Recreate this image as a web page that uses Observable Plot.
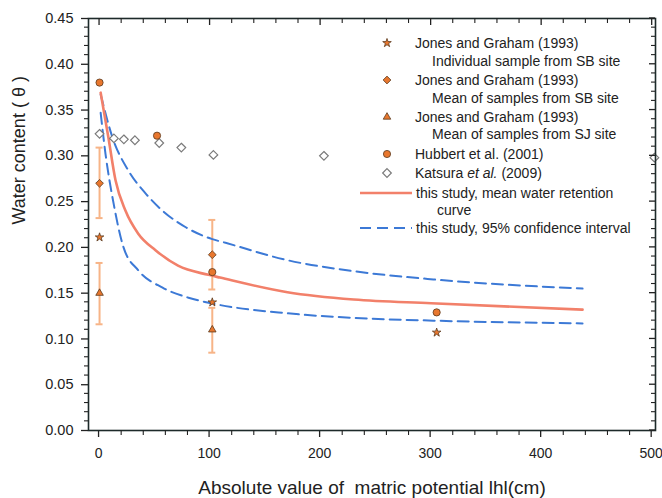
<!DOCTYPE html>
<html><head><meta charset="utf-8">
<script src="https://cdn.jsdelivr.net/npm/d3@7"></script>
<script src="https://cdn.jsdelivr.net/npm/@observablehq/plot@0.6"></script>
<style>body{margin:0;background:#fff} svg{display:block}</style>
</head><body><div id="chart"></div>
<script>
// ---- data ----
const xTitle = "Absolute value of  matric potential lhl(cm)";
const yTitle = "Water content ( θ )";
const xMajor = [0, 100, 200, 300, 400, 500];
const xMinor = [20, 40, 60, 80, 120, 140, 160, 180, 220, 240, 260, 280, 320, 340, 360, 380, 420, 440, 460, 480];
const yMajor = [0, 0.05, 0.10, 0.15, 0.20, 0.25, 0.30, 0.35, 0.40, 0.45];
const yMinor = [0.01,0.02,0.03,0.04,0.06,0.07,0.08,0.09,0.11,0.12,0.13,0.14,0.16,0.17,0.18,0.19,0.21,0.22,0.23,0.24,0.26,0.27,0.28,0.29,0.31,0.32,0.33,0.34,0.36,0.37,0.38,0.39,0.41,0.42,0.43,0.44];

// Jones and Graham (1993) individual sample SB site (stars)
const jgIndivX = [0, 102, 305];
const jgIndivY = [0.211, 0.140, 0.107];
// Jones and Graham (1993) mean SB site (diamonds) with error range
const jgSBX = [0, 102];
const jgSBY = [0.270, 0.192];
const jgSBLo = [0.232, 0.154];
const jgSBHi = [0.309, 0.230];
// Jones and Graham (1993) mean SJ site (triangles) with error range
const jgSJX = [0, 102];
const jgSJY = [0.150, 0.110];
const jgSJLo = [0.116, 0.085];
const jgSJHi = [0.183, 0.134];
// Hubbert et al. (2001)
const hubX = [0, 52, 102, 305];
const hubY = [0.380, 0.322, 0.173, 0.129];
// Katsura et al. (2009)
const katX = [0, 13, 22, 32, 54, 74, 103, 203, 502];
const katY = [0.324, 0.319, 0.318, 0.317, 0.314, 0.309, 0.301, 0.300, 0.298];
// this study: mean curve
const meanX = [1, 8, 14.5, 23.5, 35, 50.6, 71, 98.5, 109, 170, 230, 300, 437];
const meanY = [0.369, 0.320, 0.273, 0.240, 0.215, 0.197, 0.180, 0.170, 0.167, 0.151, 0.143, 0.139, 0.132];
// this study: 95% CI
const upX = [1, 11.7, 26, 41.6, 57, 78, 102, 114, 170, 230, 302, 437];
const upY = [0.367, 0.320, 0.284, 0.259, 0.240, 0.222, 0.209, 0.205, 0.186, 0.174, 0.165, 0.155];
const loX = [1, 5.4, 12.7, 21.7, 35, 57, 80.5, 105, 170, 230, 302, 437];
const loY = [0.347, 0.302, 0.248, 0.200, 0.175, 0.156, 0.145, 0.138, 0.128, 0.123, 0.120, 0.117];

const legendItems = [
  {kind: "star", lines: ["Jones and Graham (1993)", "Individual sample from SB site"]},
  {kind: "diamond", lines: ["Jones and Graham (1993)", "Mean of samples from SB site"]},
  {kind: "triangle", lines: ["Jones and Graham (1993)", "Mean of samples from SJ site"]},
  {kind: "circle", lines: ["Hubbert et al. (2001)"]},
  {kind: "open", lines: ["Katsura |et al.| (2009)"]},
  {kind: "solid", lines: ["this study, mean water retention", "curve"]},
  {kind: "dashed", lines: ["this study, 95% confidence interval"]}
];

// ---- styles ----
const font = "'Liberation Sans', Arial, Helvetica, sans-serif";
const ink = "#222";
const orange = "#e8772e";
const outline = "#5b3a1e";
const errColor = "#f7b487";
const redLine = "#f2806a";
const blueLine = "#3c79d6";
const symR = {star: 2.7, diamond: 3.5, triangle: 2.8, circle: 3.6, open: 3.9};

const zip = (xs, ys) => xs.map((x, i) => ({x, y: ys[i]}));
const errs = [
  ...jgSBX.map((x, i) => ({x, lo: jgSBLo[i], hi: jgSBHi[i]})),
  ...jgSJX.map((x, i) => ({x, lo: jgSJLo[i], hi: jgSJHi[i]}))
];
const caps = errs.flatMap(d => [{x: d.x, y: d.lo}, {x: d.x, y: d.hi}]);
const xDom = [-10, 503], yDom = [0, 0.45];

const chart = Plot.plot({
  width: 662, height: 498,
  marginLeft: 88, marginRight: 7, marginTop: 18, marginBottom: 68,
  style: {fontFamily: font, background: "white", color: ink},
  x: {domain: xDom},
  y: {domain: yDom},
  marks: [
    // error bars
    Plot.ruleX(errs, {x: "x", y1: "lo", y2: "hi", stroke: errColor, strokeWidth: 2}),
    Plot.ruleY(caps, {x1: "x", x2: "x", y: "y", insetLeft: -3.5, insetRight: -3.5, stroke: errColor, strokeWidth: 2}),
    // curves
    Plot.line(zip(upX, upY), {x: "x", y: "y", stroke: blueLine, strokeWidth: 2, strokeDasharray: "11,6", curve: "monotone-x"}),
    Plot.line(zip(loX, loY), {x: "x", y: "y", stroke: blueLine, strokeWidth: 2, strokeDasharray: "11,6", curve: "monotone-x"}),
    Plot.line(zip(meanX, meanY), {x: "x", y: "y", stroke: redLine, strokeWidth: 2.6, curve: "monotone-x"}),
    // points
    Plot.dot(zip(katX, katY), {x: "x", y: "y", symbol: "diamond2", r: symR.open, fill: "white", stroke: "#7a7a7a", strokeWidth: 1.2}),
    Plot.dot(zip(hubX, hubY), {x: "x", y: "y", symbol: "circle", r: symR.circle, fill: orange, stroke: outline, strokeWidth: 0.8}),
    Plot.dot(zip(jgSBX, jgSBY), {x: "x", y: "y", symbol: "diamond2", r: symR.diamond, fill: orange, stroke: outline, strokeWidth: 0.8}),
    Plot.dot(zip(jgSJX, jgSJY), {x: "x", y: "y", symbol: "triangle", r: symR.triangle, fill: orange, stroke: outline, strokeWidth: 0.8}),
    Plot.dot(zip(jgIndivX, jgIndivY), {x: "x", y: "y", symbol: "star", r: symR.star, fill: orange, stroke: outline, strokeWidth: 0.8}),
    // axes (bottom / left outward with labels)
    Plot.axisX(xMajor, {anchor: "bottom", tickSize: 7, tickPadding: 11, fontSize: 14, dx: -1, label: null, tickFormat: d => String(d), stroke: ink, fill: ink, strokeWidth: 1.3}),
    Plot.axisY(yMajor, {anchor: "left", tickSize: 7, tickPadding: 8, fontSize: 14.5, label: null, tickFormat: d3.format(".2f"), stroke: ink, fill: ink, strokeWidth: 1.3}),
    Plot.frame({stroke: "#1d2a2a", strokeWidth: 1.6}),
    // titles
    Plot.text([xTitle], {frameAnchor: "bottom", dy: 57, fontSize: 19, fill: ink, lineAnchor: "middle"}),
    Plot.text([yTitle], {frameAnchor: "left", dx: -69, rotate: -90, fontSize: 18, fill: ink, lineAnchor: "middle"})
  ]
});
document.getElementById("chart").append(chart);

// preserve double space in the x title
d3.select(chart).selectAll("text").style("white-space", "pre");

const svg = d3.select(chart);

// ---- minor and inward ticks, positioned with Plot's own scales ----
const sx = chart.scale("x"), sy = chart.scale("y");
const px = v => sx.apply(v), py = v => sy.apply(v);
const fLeft = px(xDom[0]), fRight = px(xDom[1]), fTop = py(yDom[1]), fBottom = py(yDom[0]);
const tg = svg.append("g").attr("stroke", ink);
function drawTicks(vals, orient, len, w) {
  vals.forEach(v => {
    let x1, x2, y1, y2;
    if (orient === "bottom") { x1 = x2 = px(v); y1 = fBottom; y2 = fBottom + len; }
    if (orient === "top")    { x1 = x2 = px(v); y1 = fTop; y2 = fTop + len; }
    if (orient === "left")   { y1 = y2 = py(v); x1 = fLeft; x2 = fLeft - len; }
    if (orient === "right")  { y1 = y2 = py(v); x1 = fRight; x2 = fRight - len; }
    tg.append("line").attr("x1", x1).attr("x2", x2).attr("y1", y1).attr("y2", y2).attr("stroke-width", w);
  });
}
drawTicks(xMinor, "bottom", 5, 1.1);
drawTicks(yMinor, "left", 4, 1.1);
drawTicks(xMajor, "top", 7, 1.3);
drawTicks(xMinor, "top", 5, 1.1);
drawTicks(yMajor, "right", 6, 1.3);
drawTicks(yMinor, "right", 4, 1.1);

// ---- legend (layout) ----
const lg = svg.append("g").attr("font-family", font).attr("font-size", 14).attr("fill", ink).attr("text-anchor", "start");
const rowY = [[43, 61], [80, 98], [117, 134], [154], [173], [193, 210], [228]];
const symX = 387, textX = 415, indentX = 432;
const symMap = {star: d3.symbolStar, diamond: d3.symbolDiamond2, triangle: d3.symbolTriangle, circle: d3.symbolCircle, open: d3.symbolDiamond2};
legendItems.forEach((item, i) => {
  const ys = rowY[i];
  const y0 = ys[0];
  const isLine = item.kind === "solid" || item.kind === "dashed";
  if (isLine) {
    lg.append("line").attr("x1", 360).attr("x2", 412).attr("y1", y0).attr("y2", y0)
      .attr("stroke", item.kind === "solid" ? redLine : blueLine)
      .attr("stroke-width", item.kind === "solid" ? 2.6 : 2)
      .attr("stroke-dasharray", item.kind === "solid" ? null : "11,6");
  } else {
    const r = symR[item.kind];
    lg.append("path").attr("d", d3.symbol(symMap[item.kind], Math.PI * r * r)())
      .attr("transform", `translate(${symX},${y0})`)
      .attr("fill", item.kind === "open" ? "white" : orange)
      .attr("stroke", item.kind === "open" ? "#7a7a7a" : outline)
      .attr("stroke-width", item.kind === "open" ? 1.2 : 0.8);
  }
  item.lines.forEach((ln, j) => {
    const x = j === 0 ? (isLine ? 416 : textX) : (isLine ? 437 : indentX);
    const t = lg.append("text").attr("x", x).attr("y", ys[j]).attr("dy", "0.35em");
    ln.split("|").forEach((part, k) => {
      t.append("tspan").attr("font-style", k === 1 ? "italic" : null).text(part);
    });
  });
});
</script>
</body></html>
